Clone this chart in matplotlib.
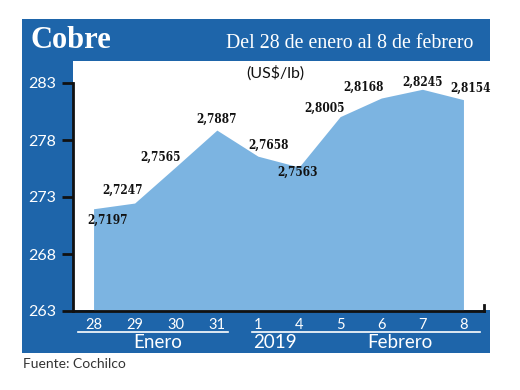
import matplotlib.pyplot as plt
from matplotlib.patches import Rectangle
from matplotlib.lines import Line2D

# data (US$/lb, axis in cents)
days = ['28', '29', '30', '31', '1', '4', '5', '6', '7', '8']
prices = [2.7197, 2.7247, 2.7565, 2.7887, 2.7658, 2.7563, 2.8005, 2.8168, 2.8245, 2.8154]
price_labels = ['2,7197', '2,7247', '2,7565', '2,7887', '2,7658',
                '2,7563', '2,8005', '2,8168', '2,8245', '2,8154']
yticks = [263, 268, 273, 278, 283]

cents = [p * 100 for p in prices]

dark_blue = '#1e65aa'
fill_blue = '#7cb4e1'
sans = 'Lato'

W, H = 520, 390
fig = plt.figure(figsize=(5.2, 3.9), dpi=100)


def fx(x):
    return x / W


def fy(y):
    return 1 - y / H


def box(x0, y0, x1, y1, color):
    fig.patches.append(Rectangle((fx(x0), fy(y1)), fx(x1 - x0), (y1 - y0) / H,
                                 transform=fig.transFigure, color=color, lw=0, zorder=0))


# blue frame pieces
box(22, 19, 490, 61, dark_blue)
box(22, 61, 73, 353, dark_blue)
box(22, 310, 490, 353, dark_blue)

ax = fig.add_axes([fx(73), fy(311), fx(484 - 73), (311 - 83) / H])
ax.set_facecolor('none')
ax.set_zorder(2)

x = list(range(len(days)))
ax.fill_between(x, 263, cents, color=fill_blue, lw=0)

ax.set_xlim(-0.5, 9.5)
ax.set_ylim(263, 283)
ax.set_yticks(yticks)
ax.set_yticklabels([str(t) for t in yticks], color='white', fontsize=11.5, family=sans)
ax.tick_params(axis='y', length=8, width=2, color='#111111', pad=4)
ax.set_xticks(x)
ax.set_xticklabels(days, color='white', fontsize=10.5, family=sans)
ax.tick_params(axis='x', length=0, pad=5)

for s in ['top', 'right']:
    ax.spines[s].set_visible(False)
for s in ['left', 'bottom']:
    ax.spines[s].set_linewidth(2)
    ax.spines[s].set_color('#111111')
ax.add_line(Line2D([1, 1], [0, 0.025], transform=ax.transAxes, color='#111111', lw=2, clip_on=False))

# value labels (offsets in points)
offsets = [(10, -8), (-9, 9), (-11, 7), (0, 8), (8, 8), (-1, -4), (-11, 6), (-13, 8), (0, 5), (5, 8)]
for xi, v, lab, (dx, dy) in zip(x, cents, price_labels, offsets):
    ax.annotate(lab, (xi, v), xytext=(dx, dy), textcoords='offset points',
                ha='center', va='center', fontsize=8.5, fontweight='bold',
                family='DejaVu Serif', fontstretch='condensed', color='#111111',
                annotation_clip=False)

# header texts
fig.text(fx(30), fy(40), 'Cobre', color='white', fontsize=22, fontweight='bold',
         family='Liberation Serif', va='center', ha='left')
fig.text(fx(473), fy(44), 'Del 28 de enero al 8 de febrero', color='white', fontsize=14.3,
         family='Liberation Serif', va='center', ha='right')
fig.text(fx(275), fy(73), '(US$/lb)', color='#111111', fontsize=11.5, family=sans,
         va='center', ha='center')

# month groups under the axis
fig.add_artist(Line2D([fx(78), fx(228)], [fy(332), fy(332)], color='white', lw=1.2))
fig.add_artist(Line2D([fx(252), fx(480)], [fy(332), fy(332)], color='white', lw=1.2))
fig.text(fx(158), fy(343), 'Enero', color='white', fontsize=13.5, family=sans, ha='center', va='center')
fig.text(fx(275), fy(343), '2019', color='white', fontsize=13.5, family=sans, ha='center', va='center')
fig.text(fx(400), fy(343), 'Febrero', color='white', fontsize=13.5, family=sans, ha='center', va='center')

fig.text(fx(23), fy(364), 'Fuente: Cochilco', color='#333333', fontsize=10, family=sans,
         ha='left', va='center')

fig.savefig('out.png', dpi=100)
